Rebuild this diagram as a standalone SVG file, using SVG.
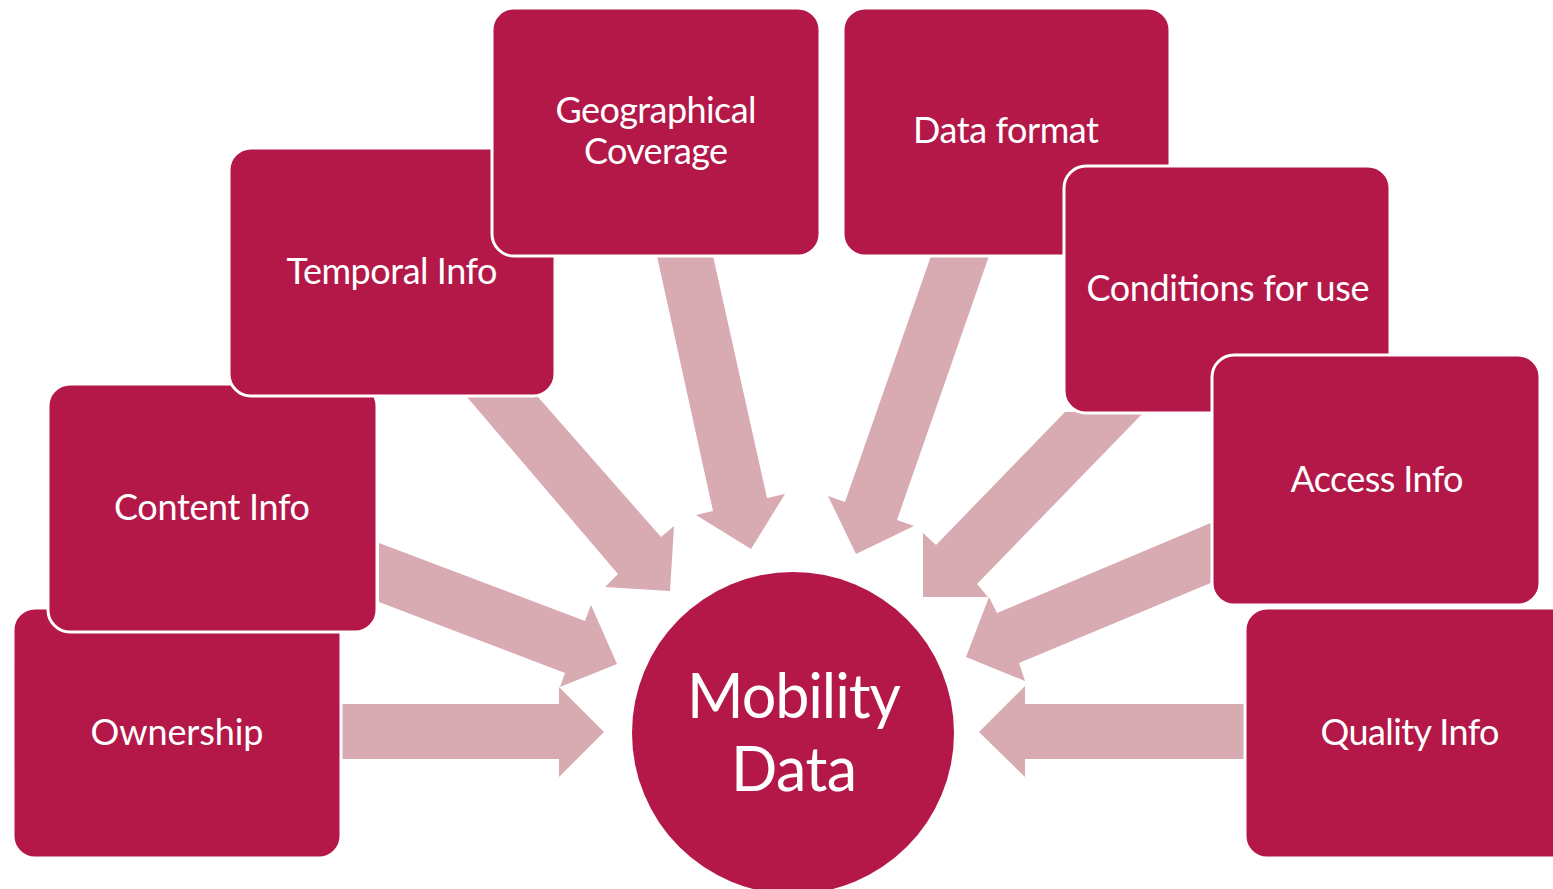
<svg xmlns="http://www.w3.org/2000/svg" width="1553" height="889" viewBox="0 0 1553 889">
<style>
.box{fill:#B31849;stroke:#FFFFFF;stroke-width:3}
.arr{fill:#D8AAB2;stroke:none}
.lbl{fill:#FFFFFF;font-family:Lato,"Open Sans","Liberation Sans",sans-serif;font-size:36px;text-anchor:middle}
.big{fill:#FFFFFF;font-family:Lato,"Open Sans","Liberation Sans",sans-serif;font-size:61px;text-anchor:middle}
</style>
<rect width="1553" height="889" fill="#FFFFFF"/>
<g id="connectors">
<polygon class="arr" points="335,704 559,704 559,687 604,732 559,777 559,759 335,759"/>
<polygon class="arr" points="379,543 585,621 591,605 617,664 560,687 565,673 379,602"/>
<polygon class="arr" points="467,397 538,397 661,537 674,526 670,591 605,587 618,574"/>
<polygon class="arr" points="657,256 713,256 767,498 785,494 751,549 696,515 713,511"/>
<polygon class="arr" points="931,256 989,256 897,520 914,526 856,554 828,496 845,502"/>
<polygon class="arr" points="1065,412 1144,412 977,584 988,597 923,597 923,533 936,545"/>
<polygon class="arr" points="1213,522 1213,582 1019,663 1025,681 966,657 989,597 997,613"/>
<polygon class="arr" points="1250,704 1025,704 1025,686 979,732 1025,777 1025,759 1250,759"/>
</g>
<g id="ownership">
<rect class="box" x="13" y="608" width="328" height="250" rx="22"/>
<text class="lbl" x="177" y="745" textLength="173">Ownership</text>
</g>
<g id="content-info">
<rect class="box" x="48" y="384" width="329" height="248" rx="22"/>
<text class="lbl" x="212" y="520" textLength="196">Content Info</text>
</g>
<g id="temporal-info">
<rect class="box" x="229" y="148" width="326" height="248" rx="22"/>
<text class="lbl" x="392" y="284" textLength="211">Temporal Info</text>
</g>
<g id="geographical-coverage">
<rect class="box" x="492" y="8" width="328" height="248" rx="22"/>
<text class="lbl" x="656" y="123" textLength="201">Geographical</text>
<text class="lbl" x="656" y="164" textLength="144">Coverage</text>
</g>
<g id="data-format">
<rect class="box" x="843" y="8" width="327" height="248" rx="22"/>
<text class="lbl" x="1006" y="143" textLength="186">Data format</text>
</g>
<g id="conditions-for-use">
<rect class="box" x="1064" y="166" width="326" height="247" rx="22"/>
<text class="lbl" x="1228" y="301" textLength="283">Conditions for use</text>
</g>
<g id="access-info">
<rect class="box" x="1212" y="355" width="328" height="250" rx="22"/>
<text class="lbl" x="1377" y="492" textLength="173">Access Info</text>
</g>
<g id="quality-info">
<rect class="box" x="1245" y="608" width="328" height="250" rx="22"/>
<text class="lbl" x="1410" y="745" textLength="179">Quality Info</text>
</g>
<g id="mobility-data">
<circle cx="793" cy="733" r="161" fill="#B31849"/>
<text class="big" x="794" y="718" textLength="214">Mobility</text>
<text class="big" x="794" y="791" textLength="126">Data</text>
</g>
</svg>
